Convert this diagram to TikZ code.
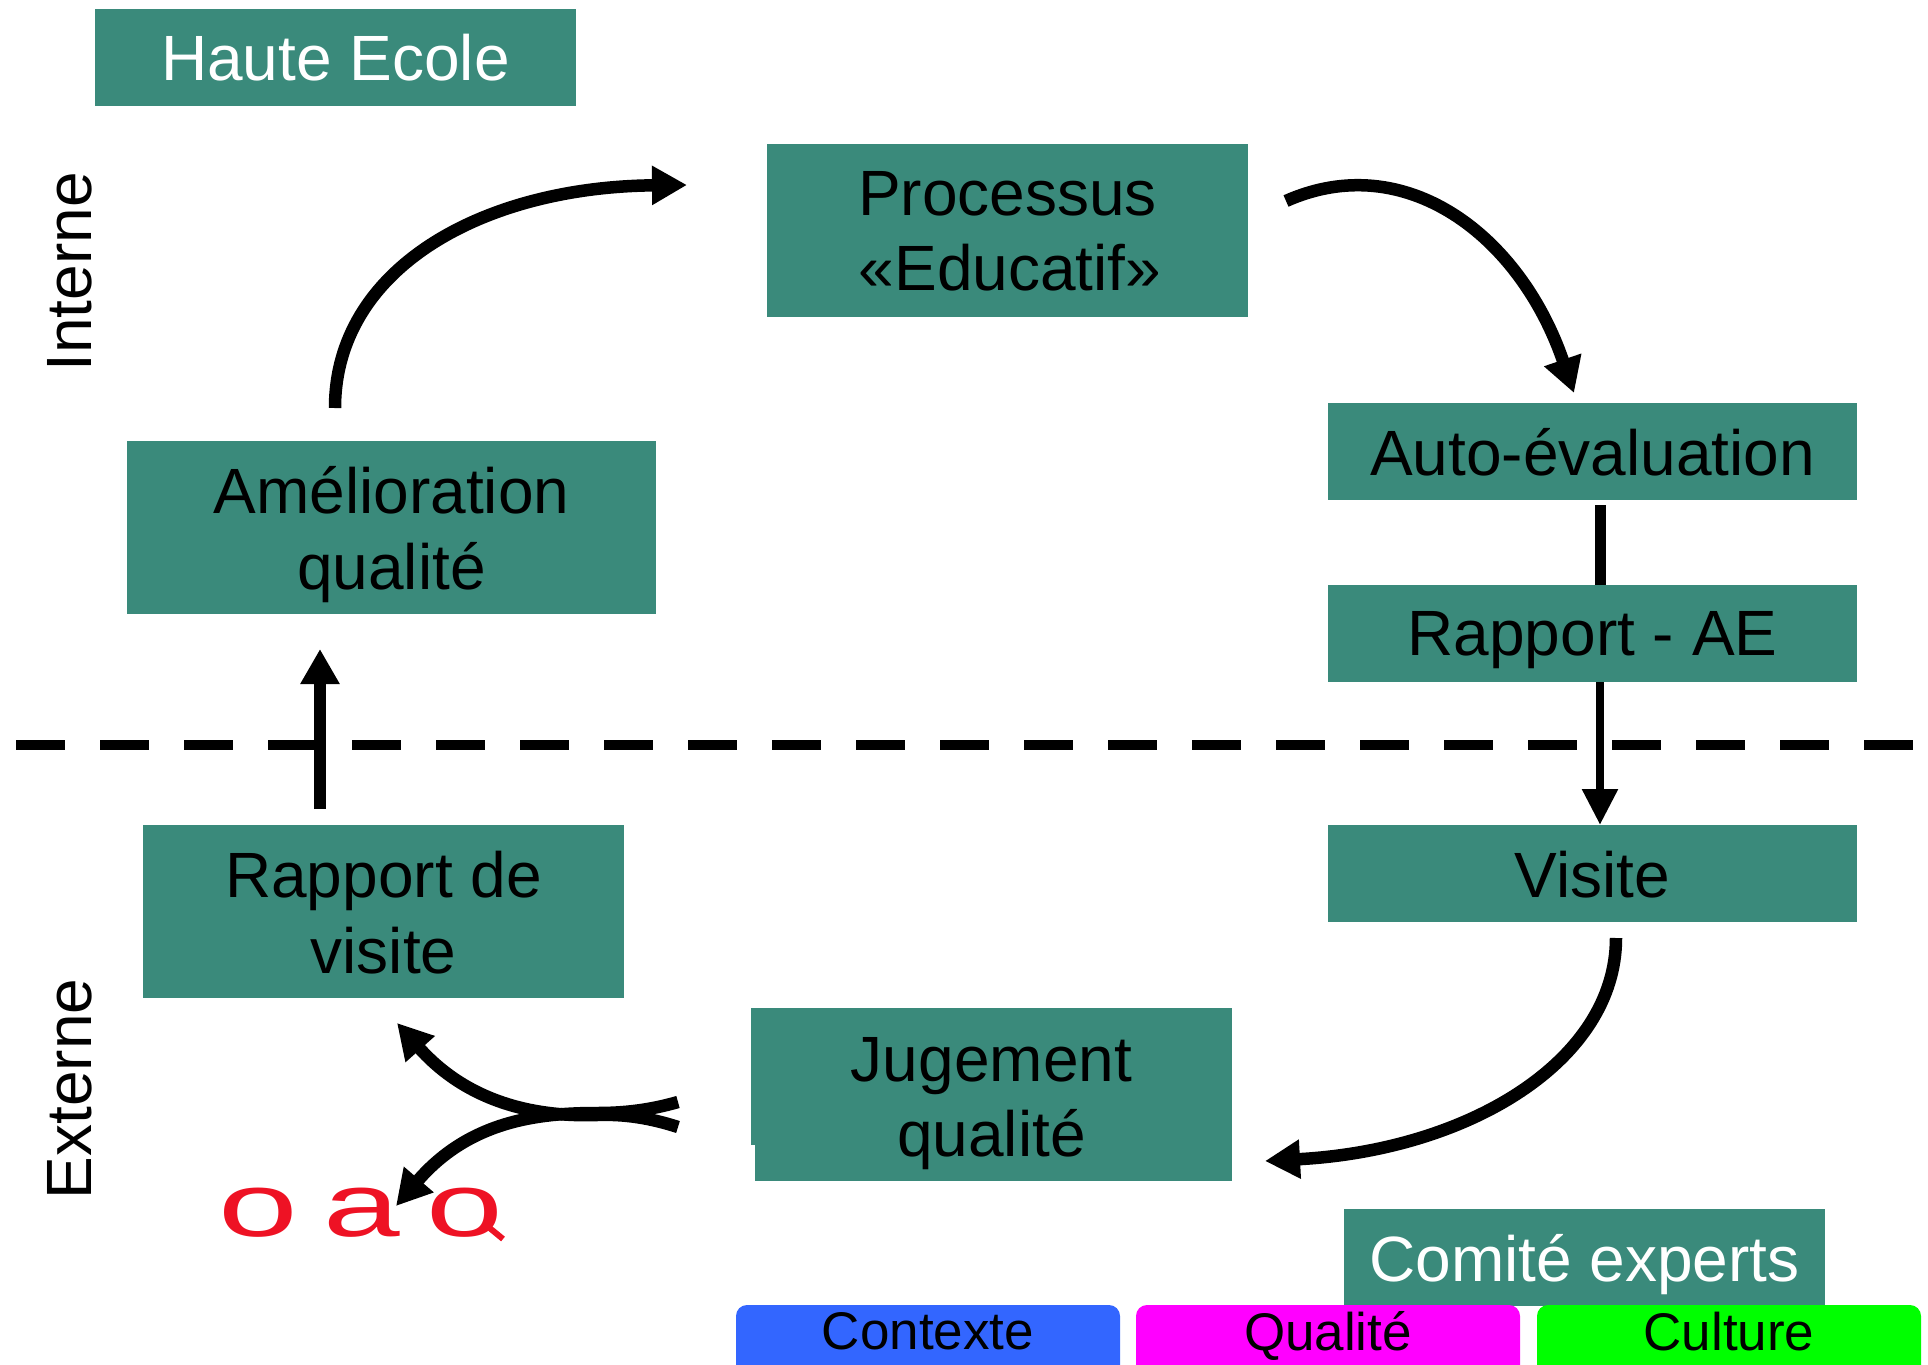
\documentclass[tikz,border=0pt]{standalone}
\usepackage{fontspec}
\setmainfont{Liberation Sans}
\usetikzlibrary{arrows.meta}
\definecolor{boxteal}{RGB}{58,138,123}
\definecolor{chipblue}{RGB}{51,102,255}
\definecolor{chipmag}{RGB}{255,0,255}
\definecolor{chipgreen}{RGB}{0,255,0}
\definecolor{oaqred}{RGB}{238,18,36}
\tikzset{
  x=1pt,y=-1pt,
  boxbase/.style={fill=boxteal,inner sep=0pt},
  boxtext/.style={inner sep=0pt,align=center,font=\fontsize{64}{75.5}\selectfont},
  chip/.style={rounded corners=11pt,inner sep=0pt,minimum width=384pt,minimum height=84pt,font=\fontsize{53}{60}\selectfont,text=black},
  flow/.style={draw=black,line width=12.5pt,-{Triangle[length=35pt,width=37pt]}},
  oaqletter/.style={text=oaqred,inner sep=0pt,font=\fontsize{106}{106}\selectfont}
}
\newcommand{\tbox}[8]{% name, x1, y1, x2, y2, text colour, text offset, text
  \node[boxbase,minimum width=#4pt-#2pt,minimum height=#5pt-#3pt] (#1) at ({(#2+#4)/2},{(#3+#5)/2}) {};
  \node[boxtext,text=#6] (#1t) at ({(#2+#4)/2},{(#3+#5)/2+#7}) {#8};}
\begin{document}
\begin{tikzpicture}
\useasboundingbox (0,0) rectangle (1928,1365);
\clip (0,0) rectangle (1928,1365);

% line behind the Rapport - AE box
\coordinate (aeout) at (1600,505);
\coordinate (vtin) at (1600,825);
\draw[line width=11pt] (aeout) -- (1600,600);
\draw[line width=8.5pt,-{Triangle[length=36pt,width=34pt]}] (1600,600) -- (vtin);

\tbox{he}{95}{9}{576}{106}{white}{0}{Haute Ecole}
\tbox{proc}{767}{144}{1248}{317}{black}{1}{Processus\\\hspace*{5pt}«Educatif»}
\tbox{auto}{1328}{403}{1857}{500}{black}{1}{Auto-évaluation}
\tbox{rae}{1328}{585}{1857}{682}{black}{7}{Rapport - AE}
\tbox{vis}{1328}{825}{1857}{922}{black}{1}{Visite}
\tbox{amel}{127}{441}{656}{614}{black}{7}{Amélioration\\qualité}
\tbox{rdv}{143}{825}{624}{998}{black}{1}{Rapport de\\visite}
\fill[boxteal] (751,1008) rectangle (760,1145);
\tbox{jug}{755}{1008}{1232}{1181}{black}{9}{\hspace*{-4pt}Jugement\\\hspace*{-4pt}qualité}
\tbox{com}{1344}{1209}{1825}{1306}{white}{7}{Comité experts}

\node[chip,fill=chipblue] (ctx) at (928,1347) {\raisebox{32pt}{Contexte}};
\node[chip,fill=chipmag] (qual) at (1328,1347) {\raisebox{32pt}{Qualité}};
\node[chip,fill=chipgreen] (cult) at (1729,1347) {\raisebox{32pt}{Culture}};

\node[rotate=90,font=\fontsize{64}{64}\selectfont,inner sep=0pt] (int) at (70,272) {Interne};
\node[rotate=90,font=\fontsize{64}{64}\selectfont,inner sep=0pt] (ext) at (70,1089) {Externe};

\node[oaqletter,xscale=1.35,yscale=.85] (oo) at (258,1213) {o};
\node[oaqletter,xscale=1.3,yscale=.85] (oa) at (362,1213) {a};
\node[oaqletter,xscale=1.3,yscale=.85] (oq) at (465,1213) {o};
\draw[oaqred,line width=6pt] (486,1225) -- (503,1239);

% dashed divider
\coordinate (dl) at (16,745);
\coordinate (dr) at (1914,745);
\draw[line width=10.5pt,dash pattern=on 49pt off 35pt] (dl) -- (dr);

% connectors
\coordinate (a1) at (335,408);
\coordinate (a2) at (687,185);
\draw[flow] (a1) .. controls (335,270) and (480,187) .. (a2);
\coordinate (b1) at (1286,201);
\coordinate (b2) at (1574,393);
\draw[flow] (b1) .. controls (1405,148) and (1520,235) .. (b2);
\coordinate (c1) at (1616,938);
\coordinate (c2) at (1265,1161);
\draw[flow] (c1) .. controls (1616,1060) and (1470,1150) .. (c2);
\coordinate (d1) at (320,809);
\coordinate (d2) at (320,649);
\draw[flow] (d1) -- (d2);
\coordinate (e1) at (678,1127);
\coordinate (e2) at (397,1023);
\draw[flow] (e1) .. controls (650,1118) and (625,1114) .. (597,1115) .. controls (540,1117) and (470,1105) .. (e2);
\coordinate (f1) at (678,1102);
\coordinate (f2) at (396,1206);
\draw[flow] (f1) .. controls (650,1110) and (625,1113) .. (597,1113) .. controls (540,1113) and (470,1120) .. (f2);
\end{tikzpicture}
\end{document}
